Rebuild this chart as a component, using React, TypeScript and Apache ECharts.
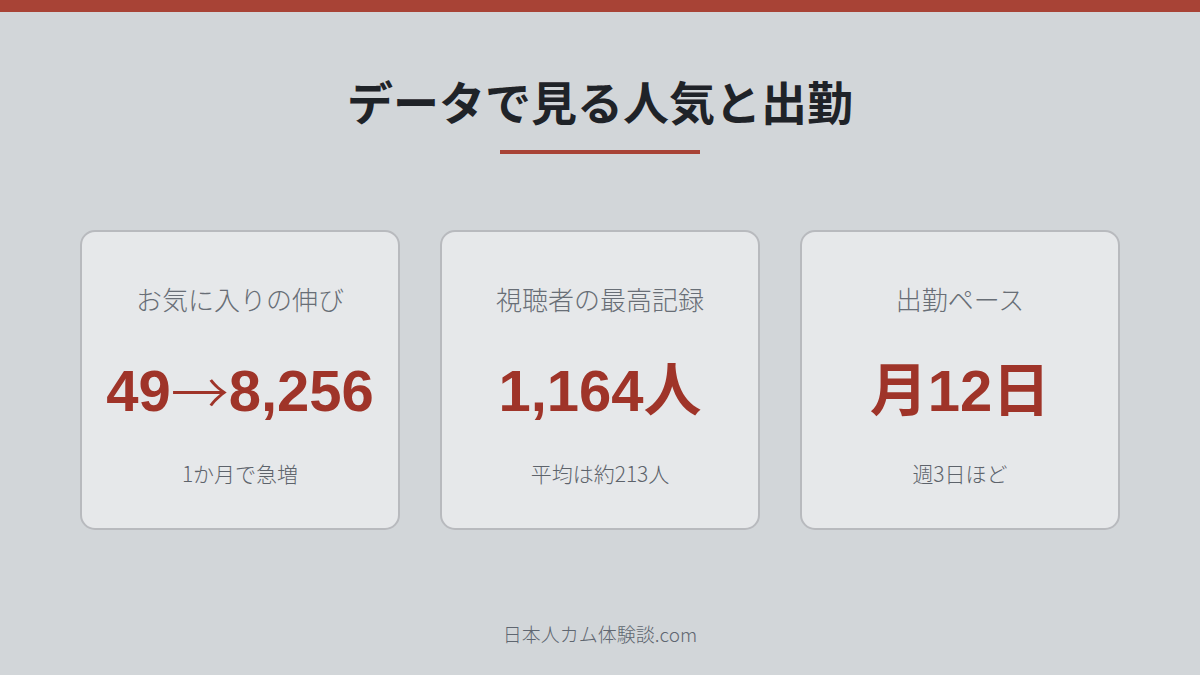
import { useEffect, useRef } from "react";
import * as echarts from "echarts";

const pageTitle = "データで見る人気と出勤";
const cardTitles = ["お気に入りの伸び", "視聴者の最高記録", "出勤ペース"];
const cardValues = ["49→8,256", "1,164人", "月12日"];
const cardNotes = ["1か月で急増", "平均は約213人", "週3日ほど"];
const footerText = "日本人カム体験談.com";

const JP = '"Noto Sans CJK JP", "Noto Sans", sans-serif';
const NUM = '"Liberation Sans", Arial, "Noto Sans CJK JP", sans-serif';

// arrow drawn with a thin full-width glyph, like the original
function richValue(v: string): string {
  return v
    .split("→")
    .map((p) => `{v|${p}}`)
    .join("{arr|→}");
}

export default function App(): JSX.Element {
  const chartRef = useRef(null);
  useEffect(() => {
    const chartDom = chartRef.current;
    const myChart = echarts.init(chartDom, null, { renderer: "svg" });

    const cardW = 320;
    const cardH = 300;
    const gap = 40;
    const left0 = 80;
    const top0 = 230;

    const cards = cardTitles.map((t, i) => {
      const x = left0 + i * (cardW + gap);
      return {
        type: "group",
        x,
        y: top0,
        children: [
          {
            type: "rect",
            shape: { x: 1, y: 1, width: cardW - 2, height: cardH - 2, r: 14 },
            style: { fill: "#e6e8ea", stroke: "#b8babe", lineWidth: 2 }
          },
          {
            type: "text",
            x: cardW / 2,
            y: 68,
            style: {
              text: t,
              font: `300 26px ${JP}`,
              fill: "#686e76",
              align: "center",
              verticalAlign: "middle"
            }
          },
          {
            type: "text",
            x: cardW / 2,
            y: 160,
            style: {
              text: richValue(cardValues[i]),
              align: "center",
              verticalAlign: "middle",
              rich: {
                v: {
                  fontFamily: NUM,
                  fontWeight: "bold",
                  fontSize: 58,
                  fill: "#9f3429"
                },
                arr: {
                  fontFamily: JP,
                  fontWeight: 300,
                  fontSize: 58,
                  fill: "#9f3429"
                }
              }
            }
          },
          {
            type: "text",
            x: cardW / 2,
            y: 243,
            style: {
              text: cardNotes[i],
              font: `300 21px ${JP}`,
              fill: "#5d636b",
              align: "center",
              verticalAlign: "middle"
            }
          }
        ]
      };
    });

    const option = {
      animation: false,
      backgroundColor: "#d2d6d9",
      graphic: [
        {
          type: "rect",
          shape: { x: 0, y: 0, width: 1200, height: 12 },
          style: { fill: "#a84336" }
        },
        {
          type: "text",
          x: 600,
          y: 100,
          style: {
            text: pageTitle,
            font: `bold 46px ${JP}`,
            fill: "#1f2328",
            align: "center",
            verticalAlign: "middle"
          }
        },
        {
          type: "rect",
          shape: { x: 500, y: 150, width: 200, height: 4 },
          style: { fill: "#a84336" }
        },
        ...cards,
        {
          type: "text",
          x: 600,
          y: 633,
          style: {
            text: footerText,
            font: `300 19px ${JP}`,
            fill: "#5f6670",
            align: "center",
            verticalAlign: "middle"
          }
        }
      ]
    };
    myChart.setOption(option);
    return () => {
      myChart.dispose();
    };
  }, []);

  return (
    <div
      ref={chartRef}
      style={{ position: "fixed", left: 0, top: 0, width: 1200, height: 675 }}
    ></div>
  );
}
